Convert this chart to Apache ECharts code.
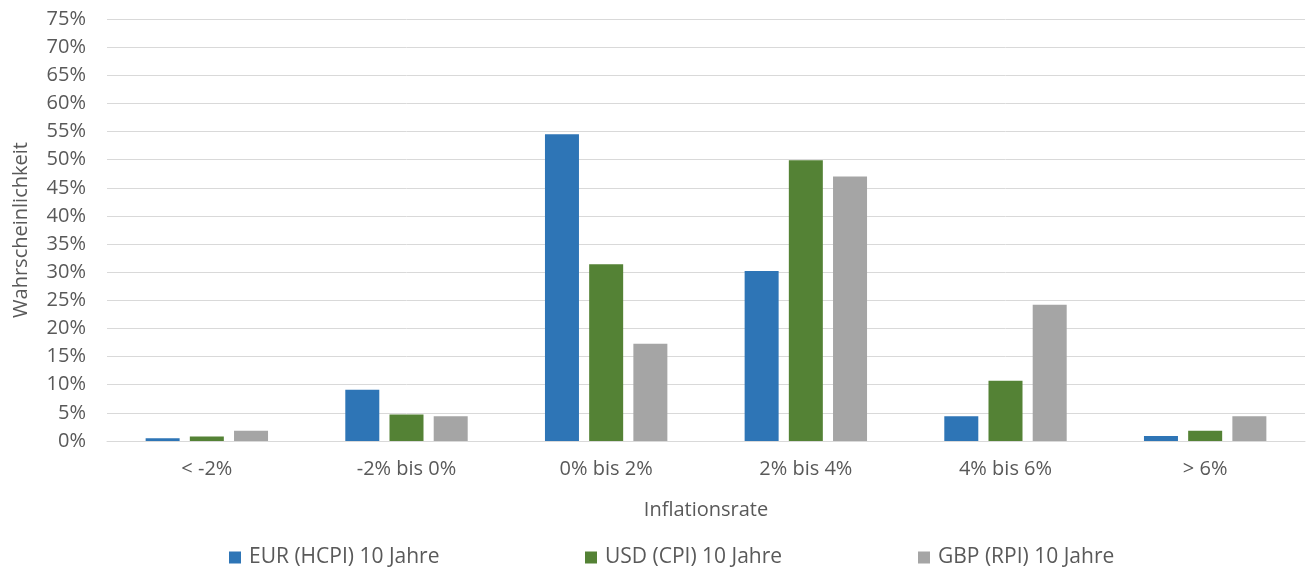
<!DOCTYPE html>
<html><head><meta charset="utf-8">
<script src="https://cdn.jsdelivr.net/npm/echarts@6/dist/echarts.min.js"></script>
<style>html,body{margin:0;padding:0;background:#fff}#c{width:1307px;height:569px}</style>
</head><body><div id="c"></div>
<script>
const categories = ['< -2%', '-2% bis 0%', '0% bis 2%', '2% bis 4%', '4% bis 6%', '> 6%'];
const seriesNames = ['EUR (HCPI) 10 Jahre', 'USD (CPI) 10 Jahre', 'GBP (RPI) 10 Jahre'];
const eurValues = [0.5, 9.1, 54.5, 30.2, 4.4, 0.9];
const usdValues = [0.8, 4.7, 31.4, 49.9, 10.7, 1.8];
const gbpValues = [1.8, 4.4, 17.3, 47.0, 24.2, 4.4];
const colors = ['#2E75B6', '#548235', '#A5A5A5'];
const font = '"Open Sans", sans-serif';
const txt = '#595959';

const chart = echarts.init(document.getElementById('c'));
const legendLefts = [229, 585, 918];
chart.setOption({
  animation: false,
  textStyle: { fontFamily: font },
  grid: { left: 107, right: 2, top: 19, bottom: 128 },
  legend: seriesNames.map((n, i) => ({
    data: [n], left: legendLefts[i], top: 547, icon: 'rect', padding: 0,
    itemWidth: 12, itemHeight: 12, itemGap: 0,
    textStyle: { fontSize: 21, color: txt, fontFamily: font, padding: [0, 0, 0, 3] }
  })),
  xAxis: {
    type: 'category', data: categories,
    name: 'Inflationsrate', nameLocation: 'middle', nameGap: 59,
    nameTextStyle: { fontSize: 20, color: txt, fontFamily: font },
    axisLine: { lineStyle: { color: '#D9D9D9', width: 1 } },
    axisTick: { show: false },
    axisLabel: { fontSize: 20, color: txt, margin: 18, fontFamily: font }
  },
  yAxis: {
    type: 'value', min: 0, max: 75, interval: 5,
    name: 'Wahrscheinlichkeit', nameLocation: 'middle', nameGap: 76,
    nameTextStyle: { fontSize: 20, color: txt, fontFamily: font },
    axisLabel: { fontSize: 20, color: txt, margin: 21, formatter: '{value}%', fontFamily: font },
    splitLine: { lineStyle: { color: '#D9D9D9', width: 1 } },
    axisLine: { show: false }, axisTick: { show: false }
  },
  series: [eurValues, usdValues, gbpValues].map((d, i) => ({
    type: 'bar', name: seriesNames[i], data: d,
    barWidth: 34, barGap: '30%',
    itemStyle: { color: colors[i] }
  }))
});
</script></body></html>
